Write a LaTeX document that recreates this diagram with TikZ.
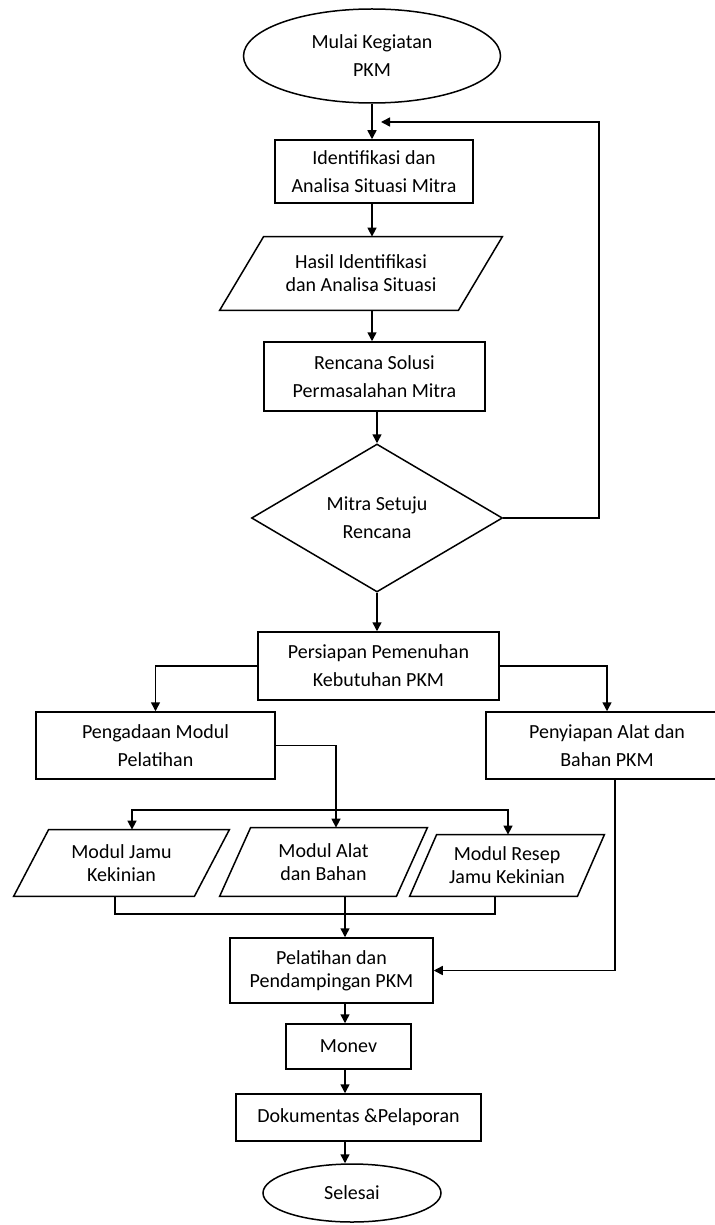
\documentclass[tikz,border=0pt]{standalone}
\usepackage{fontspec}
\setmainfont{Carlito}
\usetikzlibrary{shapes.geometric,arrows.meta,calc}
\begin{document}
\begin{tikzpicture}[x=0.5pt,y=-0.5pt,
  every node/.style={inner sep=0pt, align=center, font=\fontsize{10}{14}\selectfont},
  ln/.style={line width=0.75pt, draw=black},
  box/.style={ln, rectangle},
  term/.style={ln, ellipse},
  dec/.style={ln, diamond},
  tight/.style={font=\fontsize{10}{11.5}\selectfont},
  arr/.style={line width=0.75pt, -{Triangle[length=4.5pt,width=4.5pt]}},
  arrboth/.style={line width=0.75pt, {Triangle[length=4.5pt,width=4.5pt]}-{Triangle[length=4.5pt,width=4.5pt]}},
]
\useasboundingbox (0,0) rectangle (715,1225);
\clip (0,0) rectangle (715,1225);
\fill[white] (0,0) rectangle (715,1225);

% column and routing coordinates
\coordinate (cT) at (372,0);
\coordinate (cA) at (336,0);
\coordinate (cB) at (345,0);
\coordinate (cP) at (615,0);
\coordinate (loopA) at (599,122);
\coordinate (loopEnd) at (381,122);
\coordinate (busL) at (132,810);
\coordinate (busR) at (508,810);
\coordinate (bJ) at (115,914);
\coordinate (bR) at (495,914);

% nodes
\node[term, minimum width=128.5pt, minimum height=47pt] (mulai) at (372,56) {Mulai Kegiatan\\PKM};
\node[box, minimum width=99pt, minimum height=31.5pt] (id) at (374,171.5) {Identifikasi dan\\Analisa Situasi Mitra};
\node[tight, minimum width=141pt, minimum height=36.5pt] (hasil) at (361,273.5) {Hasil Identifikasi\\dan Analisa Situasi};
\draw[ln] ([xshift=22pt]hasil.north west) -- (hasil.north east) -- ([xshift=-22pt]hasil.south east) -- (hasil.south west) -- cycle;
\node[box, minimum width=110.5pt, minimum height=34.5pt] (renc) at (374.5,376.5) {Rencana Solusi\\Permasalahan Mitra};
\node[dec, minimum width=125.5pt, minimum height=74pt] (mitra) at (377,518) {Mitra Setuju\\Rencana};
\node[box, minimum width=120.5pt, minimum height=34pt] (pers) at (378.5,666) {Persiapan Pemenuhan\\Kebutuhan PKM};
\node[box, minimum width=119.5pt, minimum height=33.5pt] (peng) at (155.5,745.5) {Pengadaan Modul\\Pelatihan};
\node[box, minimum width=121pt, minimum height=33.5pt] (peny) at (607,745.5) {Penyiapan Alat dan\\Bahan PKM};

\node[tight, minimum width=107.5pt, minimum height=33pt] (jamu) at (121.5,863) {Modul Jamu\\Kekinian};
\draw[ln] ([xshift=17.5pt]jamu.north west) -- (jamu.north east) -- ([xshift=-17.5pt]jamu.south east) -- (jamu.south west) -- cycle;
\node[tight, minimum width=103.5pt, minimum height=34pt] (alat) at (323.5,862) {Modul Alat\\dan Bahan};
\draw[ln] ([xshift=15.5pt]alat.north west) -- (alat.north east) -- ([xshift=-15.5pt]alat.south east) -- (alat.south west) -- cycle;
\node[tight, minimum width=97pt, minimum height=30.5pt] (resep) at (507,865.5) {Modul Resep\\Jamu Kekinian};
\draw[ln] ([xshift=13.5pt]resep.north west) -- (resep.north east) -- ([xshift=-13.5pt]resep.south east) -- (resep.south west) -- cycle;

\node[box, tight, minimum width=101.5pt, minimum height=32.5pt] (pel) at (331.5,970.5) {Pelatihan dan\\Pendampingan PKM};
\node[box, minimum width=62.5pt, minimum height=22.5pt] (monev) at (348.5,1046.5) {Monev};
\node[box, minimum width=122.5pt, minimum height=23.5pt] (dok) at (358.5,1117.5) {Dokumentas \&Pelaporan};
\node[term, minimum width=89pt, minimum height=29pt] (sel) at (352,1193) {Selesai};

% connectors
\draw[arr] (mulai.south -| cT) -- (id.north -| cT);
\draw[arr] (id.south -| cT) -- (hasil.north -| cT);
\draw[arr] (hasil.south -| cT) -- (renc.north -| cT);
\draw[arr] (renc.south -| mitra.north) -- (mitra.north);
\draw[arr] (mitra.south) -- (pers.north -| mitra.south);
\draw[arr] (mitra.east) -| (loopA) -- (loopEnd);
\draw[arr] (pers.west) -| (peng.north);
\draw[arr] (pers.east) -| (peny.north);
\draw[arr] (peng.east) -| (alat.north -| cA);
\draw[arrboth] (jamu.north -| busL) -- (busL) -- (busR) -- (resep.north -| busR);
\draw[ln] (jamu.south -| bJ) -- (bJ) -- (bR) -- (resep.south -| bR);
\draw[arr] (alat.south -| cB) -- (pel.north -| cB);
\draw[arr] (peny.south -| cP) |- (pel.east);
\draw[arr] (pel.south -| cB) -- (monev.north -| cB);
\draw[arr] (monev.south -| cB) -- (dok.north -| cB);
\draw[arr] (dok.south -| cB) -- (sel.north -| cB);
\end{tikzpicture}
\end{document}
